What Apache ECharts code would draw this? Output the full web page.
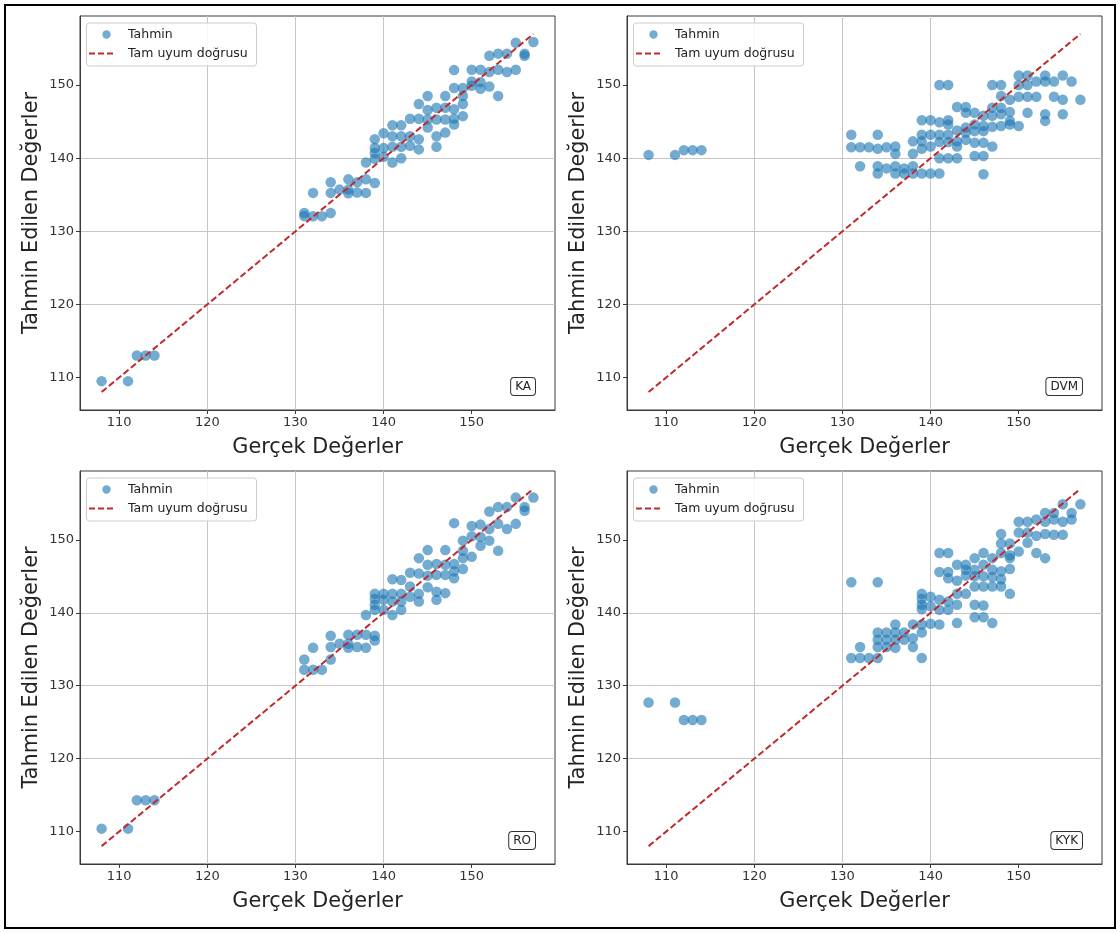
<!DOCTYPE html>
<html>
<head>
<meta charset="utf-8">
<script src="https://cdn.jsdelivr.net/npm/echarts@6/dist/echarts.min.js"></script>
<style>
html,body{margin:0;padding:0;background:#fff;}
#chart{width:1120px;height:933px;}
</style>
</head>
<body>
<div id="chart"></div>
<script>
// ---- Data ----
const tickValues = [110, 120, 130, 140, 150];
const idealLine = [[108, 108], [157, 157]];
const panelLabels = ['KA', 'DVM', 'RO', 'KYK'];
const seriesNames = ['Tahmin', 'Tam uyum doğrusu'];
const xAxisTitle = 'Gerçek Değerler';
const yAxisTitle = 'Tahmin Edilen Değerler';

const kaPoints = [
  [108,109.5],[111,109.5],[112,113],[113,113],[114,113],
  [131,132.5],[131,132.1],[132,135.25],[132,132.05],[133,132.05],[134,132.5],[134,136.7],[134,135.25],
  [135,135.7],[136,137.1],[136,135.7],[136,135.2],[137,136.7],[137,135.3],[138,137.1],[138,135.25],
  [139,136.6],[138,139.4],[139,142.6],[139,141.4],[139,140.7],[139,139.9],[140,143.4],[140,141.4],
  [140,140.2],[141,144.5],[141,143.0],[141,141.55],[141,139.4],[142,144.5],[142,143.0],[142,141.55],
  [142,140.0],[143,145.4],[143,143.0],[143,141.7],[144,147.4],[144,145.4],[144,142.6],[144,141.2],
  [145,148.5],[145,146.6],[145,145.3],[145,144.2],[146,146.9],[146,145.3],[146,143.0],[146,141.55],
  [147,148.5],[147,146.9],[147,145.3],[147,143.5],[148,152.05],[148,149.6],[148,146.7],[148,145.4],
  [148,144.6],[149,149.6],[149,148.5],[149,147.4],[149,145.75],[150,152.1],[150,150.5],[150,149.9],
  [151,152.1],[151,150.4],[151,149.5],[152,154.0],[152,151.8],[152,149.8],[153,154.3],[153,152.1],
  [153,148.5],[154,154.3],[154,151.8],[155,155.8],[155,152.1],[156,154.3],[156,154.0],[157,155.9]
];

const dvmPoints = [
  [108,140.45],[111,140.45],[112,141.1],[113,141.1],[114,141.1],
  [131,143.2],[131,141.5],[132,141.5],[132,138.9],[133,141.5],[134,143.2],[134,141.3],[134,138.9],
  [134,137.9],[135,141.5],[135,138.6],[136,141.6],[136,140.6],[136,138.9],[136,137.9],[137,138.6],
  [137,137.9],[138,142.3],[138,140.6],[138,138.9],[138,137.9],[139,145.2],[139,143.2],[139,142.3],
  [139,141.3],[139,137.9],[140,145.2],[140,143.2],[140,141.6],[140,137.9],[141,150.0],[141,144.9],
  [141,143.2],[141,142.2],[141,140.0],[141,137.9],[142,150.0],[142,145.2],[142,144.6],[142,143.2],
  [142,142.2],[142,140.0],[143,147.0],[143,143.8],[143,142.3],[143,141.6],[143,140.0],[144,147.0],
  [144,146.2],[144,144.2],[144,143.5],[144,142.5],[145,146.2],[145,144.6],[145,143.7],[145,142.1],
  [145,140.3],[146,145.8],[146,144.4],[146,143.7],[146,142.1],[146,140.3],[146,137.8],[147,150.0],
  [147,146.9],[147,145.8],[147,144.3],[147,141.6],[148,150.0],[148,148.5],[148,146.9],[148,146.0],
  [148,144.4],[149,148.0],[149,146.3],[149,145.1],[149,144.6],[150,151.3],[150,150.0],[150,148.4],
  [150,144.4],[151,151.3],[151,150.0],[151,148.4],[151,146.2],[152,150.5],[152,148.4],[153,151.3],
  [153,150.5],[153,146.0],[153,145.1],[154,150.5],[154,148.4],[155,151.3],[155,148.0],[155,146.0],
  [156,150.5],[157,148.0]
];

const roPoints = [
  [108,110.4],[111,110.4],[112,114.3],[113,114.3],[114,114.3],
  [131,133.6],[131,132.2],[132,135.2],[132,132.2],[133,132.2],[134,133.6],[134,136.85],[134,135.3],
  [135,135.75],[136,137.0],[136,135.75],[136,135.2],[137,137.0],[137,135.3],[138,137.0],[138,135.2],
  [139,136.85],[139,136.2],[138,139.7],[139,142.6],[139,141.9],[139,141.1],[139,140.4],[140,142.6],
  [140,141.8],[140,140.4],[141,144.6],[141,142.6],[141,141.55],[141,139.7],[142,144.5],[142,142.6],
  [142,141.55],[142,140.4],[143,145.5],[143,143.6],[143,142.2],[144,147.5],[144,145.4],[144,142.6],
  [144,141.55],[145,148.6],[145,146.6],[145,145.1],[145,143.5],[146,146.7],[146,145.2],[146,142.9],
  [146,141.8],[147,148.6],[147,146.6],[147,145.2],[147,142.7],[148,152.3],[148,146.7],[148,145.7],
  [148,144.75],[149,149.9],[149,148.5],[149,147.5],[149,146.0],[150,151.9],[150,150.5],[150,147.7],
  [151,152.1],[151,150.4],[151,149.2],[152,153.9],[152,151.5],[152,149.9],[153,154.5],[153,152.2],
  [153,148.5],[154,154.5],[154,151.5],[155,155.8],[155,152.2],[156,154.5],[156,154.0],[157,155.8]
];

const kykPoints = [
  [108,127.7],[111,127.7],[112,125.3],[113,125.3],[114,125.3],
  [131,133.8],[131,144.2],[132,133.8],[132,135.3],[133,133.8],[134,133.8],[134,144.2],[134,137.3],
  [134,136.3],[134,135.3],[135,137.3],[135,136.3],[135,135.3],[136,138.4],[136,137.3],[136,136.3],
  [136,135.2],[137,137.3],[137,136.3],[138,138.4],[138,136.5],[138,135.3],[139,142.6],[139,141.9],
  [139,141.1],[139,140.5],[139,138.4],[139,137.3],[139,133.8],[140,142.2],[140,140.9],[140,138.5],
  [141,148.2],[141,145.6],[141,141.8],[141,140.4],[141,138.4],[142,148.2],[142,145.6],[142,144.75],
  [142,141.55],[142,140.4],[143,146.6],[143,144.4],[143,142.6],[143,141.1],[143,138.6],[144,146.6],
  [144,145.9],[144,145.1],[144,142.6],[145,147.5],[145,145.9],[145,145.0],[145,143.6],[145,141.1],
  [145,139.4],[146,148.2],[146,146.6],[146,145.0],[146,143.6],[146,141.0],[146,139.4],[147,147.5],
  [147,145.9],[147,144.9],[147,143.6],[147,138.6],[148,150.8],[148,149.5],[148,148.2],[148,145.7],
  [148,144.6],[148,143.6],[149,149.5],[149,147.9],[149,147.5],[149,146.0],[149,142.6],[150,152.5],
  [150,151.0],[150,148.4],[151,152.5],[151,151.0],[151,149.6],[152,152.8],[152,150.55],[152,148.2],
  [153,153.7],[153,152.5],[153,150.8],[153,147.5],[154,153.7],[154,152.8],[154,150.7],[155,154.9],
  [155,152.5],[155,150.7],[156,153.7],[156,152.8],[157,154.9]
];

const panelPoints = [kaPoints, dvmPoints, roPoints, kykPoints];

// ---- Layout ----
const FONT = 'DejaVu Sans, sans-serif';
const grids = [
  {left: 80,  top: 16,  width: 475, height: 394},
  {left: 627, top: 16,  width: 475, height: 394},
  {left: 80,  top: 471, width: 475, height: 393},
  {left: 627, top: 471, width: 475, height: 393}
];
const AX_MIN = 105.55, AX_MAX = 159.45;
const SPINE = '#3a3a3a';
const GRIDC = '#c6c6c6';
const DOT = '#1f77b4';
const RED = '#c02a2c';

function axisCommon(i, isX) {
  return {
    gridIndex: i, type: 'value', min: AX_MIN, max: AX_MAX,
    name: isX ? xAxisTitle : yAxisTitle,
    nameLocation: 'middle',
    nameGap: isX ? 27 : 38,
    nameTextStyle: {fontSize: 20.8, color: '#222', fontFamily: FONT},
    axisLine: {show: true, onZero: false, lineStyle: {color: SPINE, width: 1}},
    axisTick: {show: true, length: 4, customValues: tickValues, lineStyle: {color: SPINE, width: 1}},
    axisLabel: {customValues: tickValues, fontSize: 13, color: '#333', fontFamily: FONT, margin: 6},
    splitLine: {show: true, showMinLine: false, showMaxLine: false, lineStyle: {color: GRIDC, width: 1}}
  };
}

const series = [];
panelPoints.forEach((pts, i) => {
  series.push({
    name: seriesNames[0], type: 'scatter', xAxisIndex: i, yAxisIndex: i,
    data: pts, symbolSize: 10.5,
    itemStyle: {color: DOT, opacity: 0.62},
    emphasis: {disabled: true}, z: 2
  });
  series.push({
    name: seriesNames[1], type: 'line', xAxisIndex: i, yAxisIndex: i,
    data: idealLine, symbol: 'none', silent: true,
    lineStyle: {color: RED, width: 2, type: [6.5, 3]},
    z: 3
  });
});

const graphics = [{
  type: 'rect', shape: {x: 5, y: 5, width: 1110, height: 923},
  style: {fill: 'none', stroke: '#000', lineWidth: 2}, z: 100, silent: true
}];
grids.forEach((g, i) => {
  const lx = g.left, ly = g.top;
  graphics.push({type: 'rect', shape: {x: lx + 6.5, y: ly + 7, width: 170, height: 43, r: 3},
    style: {fill: 'rgba(255,255,255,0.85)', stroke: '#cccccc', lineWidth: 1}, z: 50, silent: true});
  graphics.push({type: 'circle', shape: {cx: lx + 26.5, cy: ly + 18.5, r: 4.2},
    style: {fill: DOT, opacity: 0.62}, z: 51, silent: true});
  graphics.push({type: 'text', x: lx + 48, y: ly + 18.5,
    style: {text: seriesNames[0], fontSize: 12.5, fontFamily: FONT, fill: '#222', verticalAlign: 'middle'}, z: 51, silent: true});
  graphics.push({type: 'line', shape: {x1: lx + 9, y1: ly + 37.5, x2: lx + 36, y2: ly + 37.5},
    style: {stroke: RED, lineWidth: 2, lineDash: [6, 3]}, z: 51, silent: true});
  graphics.push({type: 'text', x: lx + 48, y: ly + 37.5,
    style: {text: seriesNames[1], fontSize: 12.5, fontFamily: FONT, fill: '#222', verticalAlign: 'middle'}, z: 51, silent: true});
  graphics.push({type: 'text', x: lx + g.width - 20, y: ly + g.height - 15,
    style: {text: panelLabels[i], fontSize: 12, fontFamily: FONT, fill: '#222', align: 'right', verticalAlign: 'bottom',
      backgroundColor: '#fff', borderColor: '#333', borderWidth: 1, borderRadius: 3, padding: [3, 4, 2, 4]}, z: 52, silent: true});
});

const option = {
  animation: false,
  backgroundColor: '#fff',
  grid: grids.map(g => Object.assign({show: true, borderColor: SPINE, borderWidth: 1, backgroundColor: 'transparent', containLabel: false}, g)),
  xAxis: grids.map((g, i) => axisCommon(i, true)),
  yAxis: grids.map((g, i) => axisCommon(i, false)),
  series: series,
  graphic: graphics
};

const chart = echarts.init(document.getElementById('chart'), null, {renderer: 'canvas'});
chart.setOption(option);
</script>
</body>
</html>
